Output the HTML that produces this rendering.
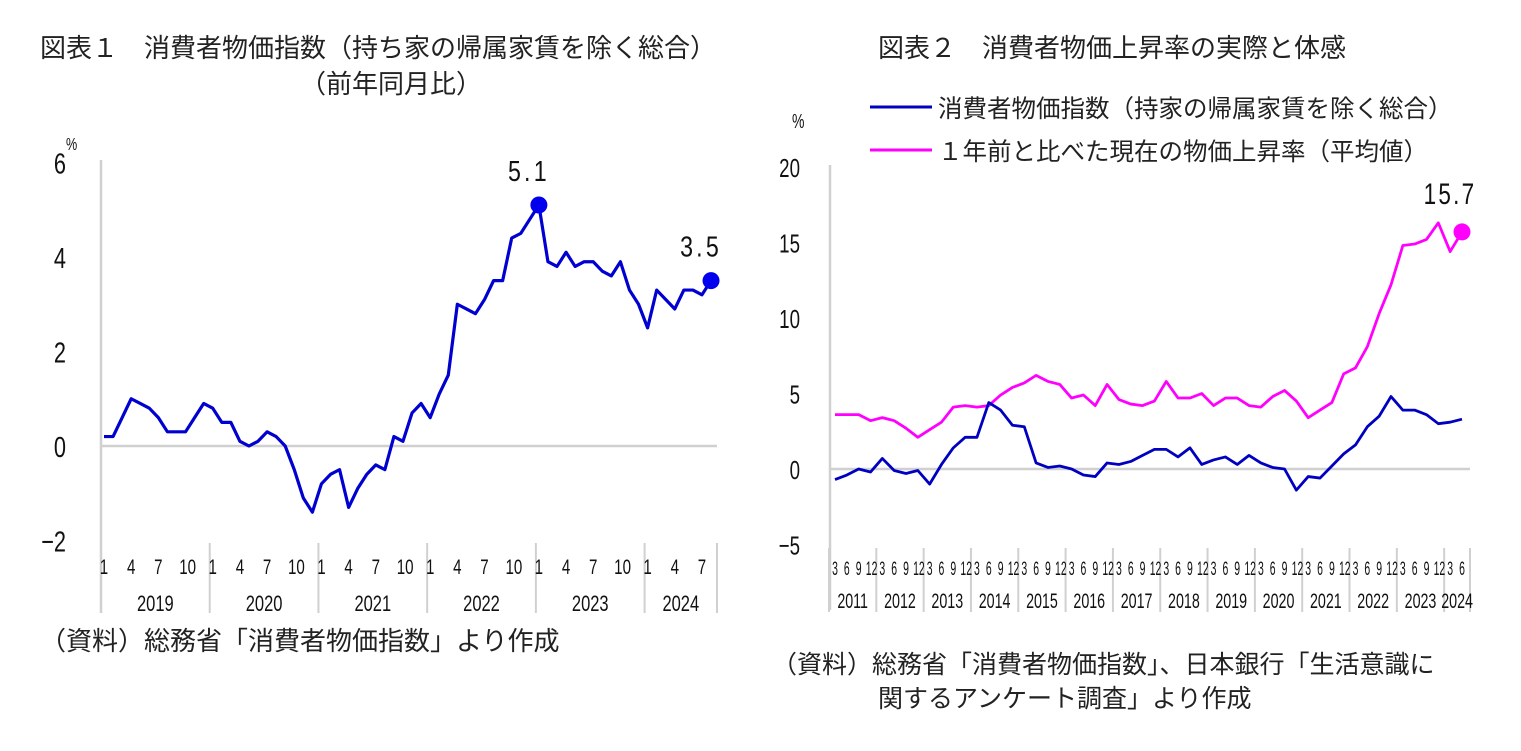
<!DOCTYPE html>
<html><head><meta charset="utf-8"><style>
html,body{margin:0;padding:0;background:#fff;}
svg{display:block;font-family:"Liberation Sans","Noto Sans CJK JP",sans-serif;}
.t{font-size:26px;fill:#222;}
.n{fill:#111;}
</style></head><body>
<svg id="s" width="1521" height="751" viewBox="0 0 1521 751">
<text class="t" x="40" y="57">図表１　消費者物価指数（持ち家の帰属家賃を除く総合）</text>
<text class="t" x="300" y="93">（前年同月比）</text>
<text class="t" x="878" y="57">図表２　消費者物価上昇率の実際と体感</text>
<text class="t" x="40" y="650">（資料）総務省「消費者物価指数」より作成</text>
<text class="t" x="772" y="673" font-size="25" style="font-size:25px">（資料）総務省「消費者物価指数」、日本銀行「生活意識に</text>
<text class="t" x="878" y="707" style="font-size:25px">関するアンケート調査」より作成</text>
<text class="n" x="66" y="150" font-size="18" transform="translate(66 0) scale(0.7 1) translate(-66 0)">%</text>
<text class="n" x="792" y="128" font-size="20" transform="translate(792 0) scale(0.7 1) translate(-792 0)">%</text>
<g>
<line x1="870" y1="107" x2="932" y2="107" stroke="#0000c0" stroke-width="3"/>
<text class="t" x="938" y="117" style="font-size:24.5px">消費者物価指数（持家の帰属家賃を除く総合）</text>
<line x1="870" y1="150" x2="932" y2="150" stroke="#ff00ff" stroke-width="3"/>
<text class="t" x="938" y="160" style="font-size:24.5px">１年前と比べた現在の物価上昇率（平均値）</text>
</g>
<g id="c1"></g>
<g id="c2"></g>
</svg>
<script>
const cpiMonthly=[0.2,0.2,0.6,1.0,0.9,0.8,0.6,0.3,0.3,0.3,0.6,0.9,
0.8,0.5,0.5,0.1,0.0,0.1,0.3,0.2,0.0,-0.5,-1.1,-1.4,
-0.8,-0.6,-0.5,-1.3,-0.9,-0.6,-0.4,-0.5,0.2,0.1,0.7,0.9,
0.6,1.1,1.5,3.0,2.9,2.8,3.1,3.5,3.5,4.4,4.5,4.8,
5.1,3.9,3.8,4.1,3.8,3.9,3.9,3.7,3.6,3.9,3.3,3.0,
2.5,3.3,3.1,2.9,3.3,3.3,3.2,3.5];
const years1=["2019","2020","2021","2022","2023","2024"];
const monthTicks=["1","4","7","10"];
const yTicks1=[6,4,2,0,-2];
const cpiQuarterly=[-0.7,-0.4,0.0,-0.2,0.7,-0.1,-0.3,-0.1,-1.0,0.3,1.4,2.1,2.1,4.4,3.9,2.9,2.8,0.4,0.1,0.2,0.0,-0.4,-0.5,0.4,0.3,0.5,0.9,1.3,1.3,0.8,1.4,0.3,0.6,0.8,0.3,0.9,0.4,0.1,0.0,-1.4,-0.5,-0.6,0.2,1.0,1.6,2.8,3.5,4.8,3.9,3.9,3.6,3.0,3.1,3.3];
const perceived=[3.6,3.6,3.6,3.2,3.4,3.2,2.7,2.1,2.6,3.1,4.1,4.2,4.1,4.2,4.9,5.4,5.7,6.2,5.8,5.6,4.7,4.9,4.2,5.6,4.6,4.3,4.2,4.5,5.8,4.7,4.7,5.0,4.2,4.7,4.7,4.2,4.1,4.8,5.2,4.5,3.4,3.9,4.4,6.3,6.7,8.1,10.3,12.2,14.8,14.9,15.2,16.3,14.4,15.7];
const years2=["2011","2012","2013","2014","2015","2016","2017","2018","2019","2020","2021","2022","2023","2024"];
const quarterTicks=["3","6","9","12"];
const yTicks2=[20,15,10,5,0,-5];

const NS="http://www.w3.org/2000/svg";
function mk(p,tag,attrs,txt){const e=document.createElementNS(NS,tag);for(const k in attrs)e.setAttribute(k,attrs[k]);if(txt!==undefined)e.textContent=txt;p.appendChild(e);return e;}
const sx=(x,s)=>`translate(${x} 0) scale(${s} 1) translate(${-x} 0)`;

// Chart 1
(function(){
const g=document.getElementById('c1');
const x0=104,dx=9.06,y0=446,py=47.25;
const X=i=>x0+i*dx, Y=v=>y0-v*py;
let e=mk(g,'line',{x1:101,y1:160,x2:101,y2:613,stroke:'#d0d0d0','stroke-width':2.5});

e=mk(g,'line',{x1:101,y1:Y(0),x2:717,y2:Y(0),stroke:'#d0d0d0','stroke-width':2.5});

yTicks1.forEach(v=>{const t=mk(g,'text',{x:66,y:Y(v)+11,'text-anchor':'end','font-size':29,fill:'#111',transform:sx(66,0.75)},v<0?'−'+(-v):String(v));
});
const n=cpiMonthly.length;
for(let y=0;y<=years1.length;y++){const xi=y<years1.length?X(y*12)-3:717;
const s=mk(g,'line',{x1:xi,y1:543,x2:xi,y2:613,stroke:'#d0d0d0','stroke-width':2});
}
years1.forEach((yr,y)=>{
  monthTicks.forEach((m,k)=>{const i=y*12+k*3;if(i>=n)return;
   const t=mk(g,'text',{x:X(i)+(m==='10'?3:0),y:574,'text-anchor':'middle','font-size':21,fill:'#111',transform:sx(X(i),0.72)},m);
   });
  const cx=(X(y*12)-3+(y<years1.length-1?X(y*12+12)-3:717))/2;
  const t=mk(g,'text',{x:cx,y:611,'text-anchor':'middle','font-size':22,fill:'#111',transform:sx(cx,0.75)},yr);
  
});
const pl=mk(g,'polyline',{points:cpiMonthly.map((v,i)=>X(i)+','+Y(v)).join(' '),fill:'none',stroke:'#0000d0','stroke-width':3.2,'stroke-linejoin':'round'});

let mi=0;cpiMonthly.forEach((v,i)=>{if(v>cpiMonthly[mi])mi=i;});
[mi,n-1].forEach(i=>{
 const c=mk(g,'circle',{cx:X(i),cy:Y(cpiMonthly[i]),r:8.5,fill:'#0000ee'});
 
 const lx=X(i)-10;
 const t=mk(g,'text',{x:lx,y:Y(cpiMonthly[i])-24,'text-anchor':'middle','font-size':29,fill:'#111','letter-spacing':'4',transform:sx(lx,0.8)},cpiMonthly[i].toFixed(1));
 
});
})();

// Chart 2
(function(){
const g=document.getElementById('c2');
const x0=835,dx=11.83,y0=469,py=15.1;
const X=i=>x0+i*dx, Y=v=>y0-v*py;
let e=mk(g,'line',{x1:830,y1:165,x2:830,y2:610,stroke:'#d0d0d0','stroke-width':2.5});

e=mk(g,'line',{x1:830,y1:Y(0),x2:1470,y2:Y(0),stroke:'#d0d0d0','stroke-width':2.5});

yTicks2.forEach(v=>{const t=mk(g,'text',{x:800,y:Y(v)+10,'text-anchor':'end','font-size':26,fill:'#111',transform:sx(800,0.72)},v<0?'−'+(-v):String(v));
});
const n=cpiQuarterly.length;
for(let y=0;y<=years2.length;y++){const xi=y<years2.length?X(y*4)-6:1470;
const s=mk(g,'line',{x1:xi,y1:548,x2:xi,y2:612,stroke:'#d0d0d0','stroke-width':2});
}
years2.forEach((yr,y)=>{
  quarterTicks.forEach((q,k)=>{const i=y*4+k;if(i>=n)return;
   const t=mk(g,'text',{x:X(i)+(q==='12'?2:0),y:575,'text-anchor':'middle','font-size':19,fill:'#111',transform:sx(X(i),0.55)},q);
   });
  const a=X(y*4)-6,b=y<years2.length-1?X(y*4+4)-6:1470;const cx=(a+b)/2;
  const t=mk(g,'text',{x:cx,y:608,'text-anchor':'middle','font-size':21,fill:'#111',transform:sx(cx,0.68)},yr);
  
});
const p1=mk(g,'polyline',{points:perceived.map((v,i)=>X(i)+','+Y(v)).join(' '),fill:'none',stroke:'#ff00ff','stroke-width':2.8,'stroke-linejoin':'round'});

const p2=mk(g,'polyline',{points:cpiQuarterly.map((v,i)=>X(i)+','+Y(v)).join(' '),fill:'none',stroke:'#0000c0','stroke-width':2.8,'stroke-linejoin':'round'});

const L=n-1;
const c=mk(g,'circle',{cx:X(L),cy:Y(perceived[L]),r:8.5,fill:'#ff00ff'});

const lx=X(L)-12;
const t=mk(g,'text',{x:lx,y:Y(perceived[L])-28,'text-anchor':'middle','font-size':30,fill:'#111','letter-spacing':'3',transform:sx(lx,0.75)},perceived[L].toFixed(1));

})();
</script>
</body></html>
